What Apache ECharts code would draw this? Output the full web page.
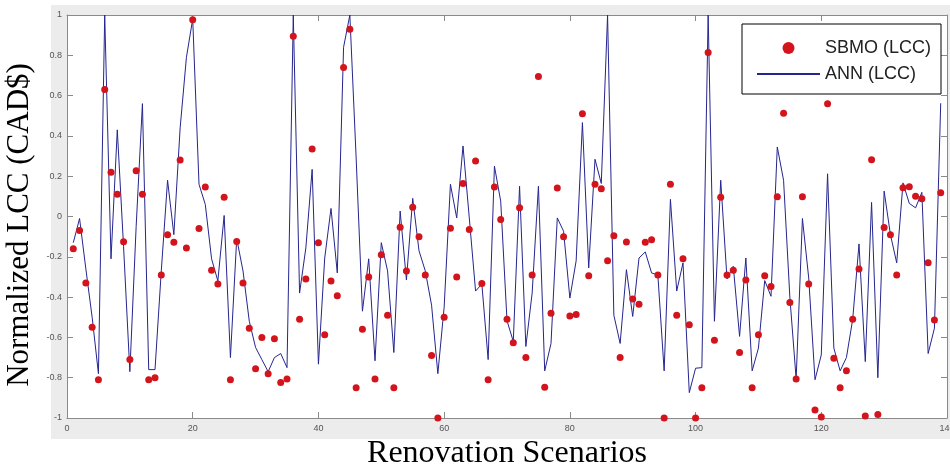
<!DOCTYPE html>
<html>
<head>
<meta charset="utf-8">
<script src="https://cdn.jsdelivr.net/npm/echarts@6/dist/echarts.min.js"></script>
<style>
  html, body { margin: 0; padding: 0; background: #fff; }
  #chart { width: 950px; height: 466px; }
</style>
</head>
<body>
<div id="chart"></div>
<script>
// Scenario index 1..139
const scenarios = Array.from({ length: 139 }, (_, i) => i + 1);

// Normalized life-cycle cost from the SBMO optimisation (markers)
const sbmoLcc = [
  -0.16, -0.07, -0.33, -0.55, -0.81, 0.63, 0.22, 0.11, -0.125, -0.71,
  0.227, 0.11, -0.81, -0.80, -0.29, -0.09, -0.128, 0.28, -0.156, 0.977,
  -0.06, 0.146, -0.267, -0.335, 0.096, -0.81, -0.124, -0.33, -0.554, -0.755,
  -0.60, -0.78, -0.607, -0.824, -0.806, 0.895, -0.51, -0.31, 0.335, -0.13,
  -0.587, -0.32, -0.393, 0.74, 0.929, -0.85, -0.56, -0.30, -0.806, -0.19,
  -0.49, -0.85, -0.053, -0.27, 0.046, -0.10, -0.29, -0.69, -1.0, -0.50,
  -0.058, -0.30, 0.164, -0.065, 0.275, -0.333, -0.81, 0.146, -0.015, -0.51,
  -0.627, 0.043, -0.70, -0.29, 0.695, -0.847, -0.48, 0.141, -0.10, -0.494,
  -0.486, 0.51, -0.294, 0.16, 0.138, -0.22, -0.095, -0.70, -0.126, -0.41,
  -0.435, -0.128, -0.116, -0.29, -1.0, 0.16, -0.49, -0.21, -0.537, -1.0,
  -0.85, 0.814, -0.614, 0.096, -0.29, -0.267, -0.675, -0.315, -0.85, -0.587,
  -0.294, -0.347, 0.098, 0.512, -0.427, -0.806, 0.098, -0.335, -0.96, -0.995,
  0.559, -0.703, -0.85, -0.766, -0.51, -0.26, -0.99, 0.282, -0.983, -0.055,
  -0.09, -0.29, 0.143, 0.148, 0.10, 0.088, -0.23, -0.514, 0.118
];

// Normalized life-cycle cost predicted by the ANN (line)
const annLcc = [
  -0.13, -0.01, -0.26, -0.50, -0.78, 1.0, -0.21, 0.43, -0.15, -0.77,
  -0.05, 0.56, -0.76, -0.76, -0.27, 0.18, -0.09, 0.44, 0.79, 0.98,
  0.16, 0.06, -0.21, -0.32, 0.005, -0.70, -0.11, -0.27, -0.52, -0.65,
  -0.71, -0.77, -0.70, -0.68, -0.75, 1.0, -0.38, -0.156, 0.234, -0.733,
  -0.206, 0.04, -0.28, 0.84, 1.0, 0.29, -0.47, -0.21, -0.716, -0.13,
  -0.27, -0.675, 0.027, -0.315, 0.09, -0.17, -0.27, -0.44, -0.78, -0.45,
  0.16, -0.007, 0.35, -0.007, -0.37, -0.335, -0.71, 0.25, 0.076, -0.517,
  -0.62, 0.15, -0.645, -0.38, 0.15, -0.766, -0.63, -0.007, -0.073, -0.405,
  -0.22, 0.466, -0.255, 0.284, 0.164, 1.0, -0.49, -0.63, -0.264, -0.496,
  -0.206, -0.176, -0.28, -0.29, -0.766, 0.085, -0.37, -0.23, -0.874, -0.753,
  -0.75, 1.0, -0.52, 0.18, -0.31, -0.247, -0.595, -0.206, -0.766, -0.653,
  -0.318, -0.396, 0.345, 0.18, -0.40, -0.806, -0.01, -0.305, -0.81, -0.687,
  0.212, -0.653, -0.766, -0.70, -0.51, -0.136, -0.72, 0.07, -0.80, 0.126,
  -0.09, -0.23, 0.167, 0.065, 0.043, 0.12, -0.68, -0.554, 0.562
];

const seriesNames = ['SBMO (LCC)', 'ANN (LCC)'];
const xTitle = 'Renovation Scenarios';
const yTitle = 'Normalized LCC (CAD$)';

const axisGray = '#8a8a8a';
const labelGray = '#555';
const serif = '"Liberation Serif", "Times New Roman", serif';
const sans = '"Liberation Sans", Arial, sans-serif';

const chart = echarts.init(document.getElementById('chart'), null, { renderer: 'canvas' });

const frameAxis = () => ({
  axisLine: { show: true, onZero: false, lineStyle: { color: axisGray, width: 1 } },
  axisTick: { show: true, inside: true, length: 6, lineStyle: { color: axisGray } },
  splitLine: { show: false }
});

chart.setOption({
  animation: false,
  backgroundColor: '#fff',
  graphic: [{
    type: 'rect',
    z: -10,
    silent: true,
    shape: { x: 51, y: 5, width: 899, height: 434 },
    style: { fill: '#ececec' }
  }],
  grid: {
    left: 67, right: 3, top: 15, bottom: 48,
    outerBoundsMode: 'none',
    containLabel: false,
    show: true, backgroundColor: '#fff', borderWidth: 0
  },
  legend: {
    orient: 'vertical',
    left: 742, top: 24,
    padding: [15, 10, 11, 14],
    itemWidth: 63, itemHeight: 12, itemGap: 8,
    borderColor: '#000', borderWidth: 1, backgroundColor: '#fff',
    textStyle: { fontFamily: sans, fontSize: 18, color: '#222' },
    data: [
      { name: seriesNames[0], icon: 'circle' },
      { name: seriesNames[1], itemStyle: { opacity: 0 } }
    ]
  },
  xAxis: [
    Object.assign({
      type: 'value', position: 'bottom',
      min: 0, max: 140, interval: 20,
      name: xTitle, nameLocation: 'middle', nameGap: 18,
      nameTextStyle: { fontFamily: serif, fontSize: 32, color: '#000' },
      axisLabel: { fontFamily: sans, fontSize: 9, color: labelGray, margin: 6 }
    }, frameAxis()),
    Object.assign({
      type: 'value', position: 'top',
      min: 0, max: 140, interval: 20,
      axisLabel: { show: false }
    }, frameAxis())
  ],
  yAxis: [
    Object.assign({
      type: 'value', position: 'left',
      min: -1, max: 1, interval: 0.2,
      name: yTitle, nameLocation: 'middle', nameGap: 27,
      nameTextStyle: { fontFamily: serif, fontSize: 31, color: '#000', padding: [0, 17, 0, 0] },
      axisLabel: {
        fontFamily: sans, fontSize: 9, color: labelGray, margin: 5,
        formatter: v => String(Math.round(v * 10) / 10)
      }
    }, frameAxis()),
    Object.assign({
      type: 'value', position: 'right',
      min: -1, max: 1, interval: 0.2,
      axisLabel: { show: false }
    }, frameAxis())
  ],
  series: [
    {
      name: seriesNames[0],
      type: 'scatter',
      symbol: 'circle',
      symbolSize: 7,
      itemStyle: { color: '#d4141c', opacity: 1 },
      z: 3,
      data: scenarios.map((x, i) => [x, sbmoLcc[i]])
    },
    {
      name: seriesNames[1],
      type: 'line',
      symbol: 'none',
      clip: true,
      lineStyle: { color: '#25258e', width: 1 },
      itemStyle: { color: '#25258e' },
      z: 2,
      data: scenarios.map((x, i) => [x, annLcc[i]])
    }
  ]
});
</script>
</body>
</html>
